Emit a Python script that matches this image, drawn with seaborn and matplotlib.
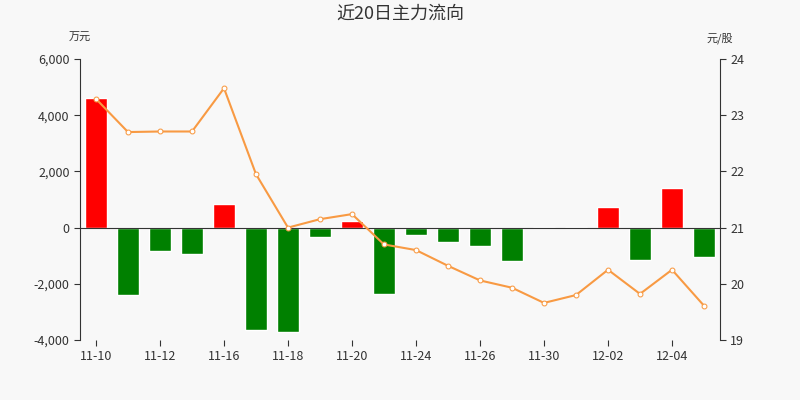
import matplotlib
matplotlib.use("Agg")
import matplotlib.pyplot as plt
import pandas as pd
import seaborn as sns

dates = ["11-10", "11-11", "11-12", "11-13", "11-16", "11-17", "11-18", "11-19", "11-20", "11-23",
         "11-24", "11-25", "11-26", "11-27", "11-30", "12-01", "12-02", "12-03", "12-04", "12-05"]
flow = [4620, -2400, -850, -950, 850, -3650, -3700, -350, 250, -2350,
        -250, -500, -650, -1200, 30, 30, 750, -1150, 1400, -1050]
price = [23.29, 22.70, 22.71, 22.71, 23.48, 21.95, 21.0, 21.15, 21.24, 20.70,
         20.60, 20.32, 20.06, 19.93, 19.66, 19.80, 20.25, 19.82, 20.25, 19.61]

sns.set_style("white")
plt.rcParams["font.family"] = ["Noto Sans CJK SC", "DejaVu Sans"]

df = pd.DataFrame({"date": dates, "flow": flow, "price": price})
df["idx"] = range(len(df))
colors = ["#ff0000" if v > 0 else "#008000" for v in flow]

fig = plt.figure(figsize=(8, 4), dpi=100, facecolor="#f8f8f8")
ax = fig.add_axes([0.1, 0.15, 0.8, 0.7025])
ax.set_facecolor("#f8f8f8")
sns.barplot(data=df, x="idx", y="flow", hue="idx", palette=colors, legend=False,
            width=0.7, saturation=1, ax=ax)
ax.set_ylim(-4000, 6000)
ax.set_yticks(range(-4000, 6001, 2000))
ax.set_yticklabels([f"{v:,}" for v in range(-4000, 6001, 2000)])
ax.set_xlim(-0.5, 19.5)
ax.set_xticks(range(0, 20, 2))
ax.set_xticklabels(dates[::2])
ax.set_xlabel("")
ax.set_ylabel("")
ax.axhline(0, color="#333333", lw=0.8)
for s in ["top", "right", "bottom"]:
    ax.spines[s].set_visible(False)
ax.spines["left"].set_color("#333333")
ax.tick_params(axis="both", labelsize=9, colors="#333333", length=4, left=True, bottom=True)

ax2 = ax.twinx()
sns.lineplot(data=df, x="idx", y="price", color="#f89a43", lw=1.5, marker="o",
             markersize=3.5, markerfacecolor="white", markeredgecolor="#f89a43", ax=ax2)
ax2.set_ylim(19, 24)
ax2.set_yticks(range(19, 25))
ax2.set_ylabel("")
for s in ["top", "left", "bottom"]:
    ax2.spines[s].set_visible(False)
ax2.spines["right"].set_color("#333333")
ax2.tick_params(axis="y", labelsize=9, colors="#333333", length=4, right=True)

fig.text(0.5, 0.965, "近20日主力流向", ha="center", va="center", fontsize=13, color="#333333")
fig.text(0.1, 0.905, "万元", ha="center", va="center", fontsize=8, color="#333333")
fig.text(0.9, 0.905, "元/股", ha="center", va="center", fontsize=8, color="#333333")

fig.savefig("out.png", dpi=100, facecolor=fig.get_facecolor())
